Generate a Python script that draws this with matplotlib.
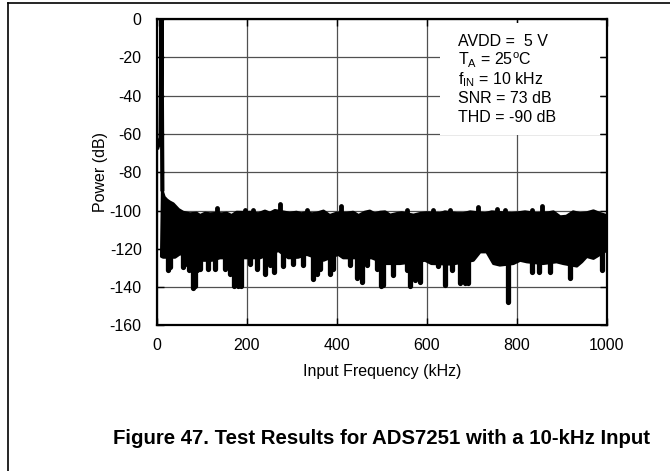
import matplotlib
matplotlib.use("Agg")
import matplotlib.pyplot as plt
from matplotlib.lines import Line2D
from matplotlib.patches import Rectangle

plt.rcParams['font.family'] = ['Liberation Sans', 'DejaVu Sans']
plt.rcParams['mathtext.fontset'] = 'custom'
plt.rcParams['mathtext.rm'] = 'Liberation Sans'
plt.rcParams['mathtext.it'] = 'Liberation Sans:italic'
plt.rcParams['axes.unicode_minus'] = False

# ---- data (frequency in kHz, power in dB) ----
# fundamental tone / leakage near DC
spike_freq = [0, 8, 10, 12]
spike_db = [-68, -62, 0, -90]

# upper edge of the noise floor
upper_freq = [12, 16, 22, 28, 36, 42, 48, 58, 73, 88, 96, 107, 118, 133, 144, 155,
              166, 177, 196, 207, 225, 240, 251, 262, 284, 295, 310, 321, 333, 344,
              355, 370, 384, 399, 422, 436, 448, 462, 473, 484, 496, 507, 518, 533,
              544, 570, 584, 599, 629, 640, 666, 681, 696, 729, 744, 788, 803, 818,
              844, 870, 881, 896, 910, 925, 940, 955, 970, 985, 996, 1000]
upper_db = [-90, -93, -94.5, -95.5, -96.5, -98, -99.5, -100.9, -101.7, -101.4, -102.6,
            -101.4, -101.7, -101.5, -101.7, -101.4, -102.6, -100.9, -101, -100.9,
            -101.7, -100.3, -101.4, -100, -100.9, -101.4, -100.9, -101.7, -101, -101.7,
            -101.4, -100.3, -102.6, -101.4, -101.4, -100.9, -102.6, -100.9, -100.3,
            -101.7, -100.9, -100.7, -102.4, -101.6, -101.2, -102.4, -101.6, -101.2,
            -101.6, -100.7, -101.6, -101.6, -100.7, -101.6, -100.7, -101.6, -101.2,
            -100.7, -101.6, -101.2, -100.7, -103.3, -103, -100.7, -101.6, -101.2,
            -100.2, -101.6, -102.4, -105.9]

# lower edge of the noise floor (between the deep dips)
lower_freq = [10, 14, 40, 51, 103, 122, 140, 196, 229, 270, 292, 314, 333, 370, 403,
              414, 477, 510, 540, 596, 610, 655, 703, 718, 733, 748, 762, 792, 807,
              822, 858, 888, 903, 933, 944, 955, 970, 1000]
lower_db = [-124, -124.4, -124.4, -122.6, -126, -126, -124.7, -124.7, -124.7, -120.9,
            -124.7, -124.4, -122.9, -126, -122.9, -124.7, -124.7, -127.7, -127.7, -126,
            -127.7, -128, -126, -121.6, -121.6, -127.7, -128.5, -127.7, -126, -126.8,
            -127.7, -126.8, -127.7, -129, -126.8, -124, -125, -120.7]

# narrow peaks above the floor
peak_freq = [133, 196, 214, 273, 333, 410, 555, 614, 651, 714, 755, 773, 833, 855]
peak_db = [-98.6, -99.7, -99.7, -96.5, -99.7, -97.4, -99.5, -99.8, -99.5, -98.1,
           -99, -99.5, -99.8, -97.7]

# narrow dips below the floor
dip_freq = [25, 30, 58.5, 66, 72, 79, 84, 90, 96, 114, 129, 151, 162, 171, 179, 186,
            207, 222, 240, 251, 259, 281, 303, 325, 347, 355, 362, 384, 392, 429, 444,
            455, 466, 488, 497, 503, 525, 555, 562, 573, 584, 625, 640, 655, 673, 684,
            691, 779, 833, 848, 873, 918, 988]
dip_db = [-131.3, -129.6, -129.6, -128, -131.3, -140.4, -139.2, -131.3, -130.4, -130.8,
          -130.8, -130.8, -133.4, -139.2, -139.2, -139.2, -127.8, -130.8, -133.4,
          -128.2, -132.2, -129.2, -127.8, -128.2, -135.7, -133.4, -130.8, -133.4,
          -130.4, -128.2, -135, -137.4, -128.2, -130.8, -139.2, -139, -133.8, -131,
          -139.5, -136.2, -137.2, -129.1, -139, -131, -138, -138, -138, -147.7, -132,
          -132, -132, -135.5, -131]

x_ticks = [0, 200, 400, 600, 800, 1000]
y_ticks = [0, -20, -40, -60, -80, -100, -120, -140, -160]

info_lines = ["AVDD =  5 V",
              r"T$_\mathrm{A}$ = 25$^\mathrm{o}$C",
              r"f$_\mathrm{IN}$ = 10 kHz",
              "SNR = 73 dB",
              "THD = -90 dB"]

# ---- figure ----
fig = plt.figure(figsize=(6.70, 4.71), dpi=100)
ax = fig.add_axes([0.2343, 0.3091, 0.6716, 0.6506])

ax.set_xlim(0, 1000)
ax.set_ylim(-160, 0)
ax.set_xticks(x_ticks)
ax.set_yticks(y_ticks)
ax.grid(True, color='#505050', lw=0.9, zorder=0)
ax.set_axisbelow(True)
ax.tick_params(direction='in', length=5, width=1, top=True, right=True,
               labelsize=11.5, color='black')
ax.tick_params(axis='y', pad=11)
ax.tick_params(axis='x', pad=9)
for s in ax.spines.values():
    s.set_linewidth(1.6)
    s.set_zorder(6)

# white info box covering the grid
ax.add_patch(Rectangle((0.629, 0.621), 0.355, 0.366, transform=ax.transAxes,
                       facecolor='white', edgecolor='none', zorder=1))
ys = [0.926, 0.864, 0.802, 0.740, 0.678]
for s, yy in zip(info_lines, ys):
    ax.text(0.669, yy, s, transform=ax.transAxes, fontsize=11.5, va='center',
            ha='left', zorder=7)

# noise band
band_x = list(upper_freq) + list(lower_freq[::-1])
band_y = list(upper_db) + list(lower_db[::-1])
ax.fill(band_x, band_y, facecolor='black', edgecolor='black', lw=2.2,
        joinstyle='round', zorder=3)
vl = ax.vlines(dip_freq, dip_db, -115, colors='black', lw=3.8, zorder=3)
vl.set_capstyle('round')
pk = ax.vlines(peak_freq, -106, peak_db, colors='black', lw=3.5, zorder=3)
pk.set_capstyle('round')
ax.plot(spike_freq, spike_db, color='black', lw=3, solid_joinstyle='round',
        solid_capstyle='butt', zorder=3)

ax.set_xlabel("Input Frequency (kHz)", fontsize=11.5, labelpad=8)
ax.set_ylabel("Power (dB)", fontsize=11.5, labelpad=1)

fig.text(0.5687, 0.070, "Figure 47. Test Results for ADS7251 with a 10-kHz Input",
         ha='center', va='center', fontsize=14.7, fontweight='bold')

# page frame lines
fig.add_artist(Line2D([8 / 670, 1.0], [1 - 3 / 471, 1 - 3 / 471],
                      transform=fig.transFigure, color='black', lw=1.2))
fig.add_artist(Line2D([8 / 670, 8 / 670], [0, 1 - 3 / 471],
                      transform=fig.transFigure, color='black', lw=1.2))

fig.savefig("out.png", dpi=100)
